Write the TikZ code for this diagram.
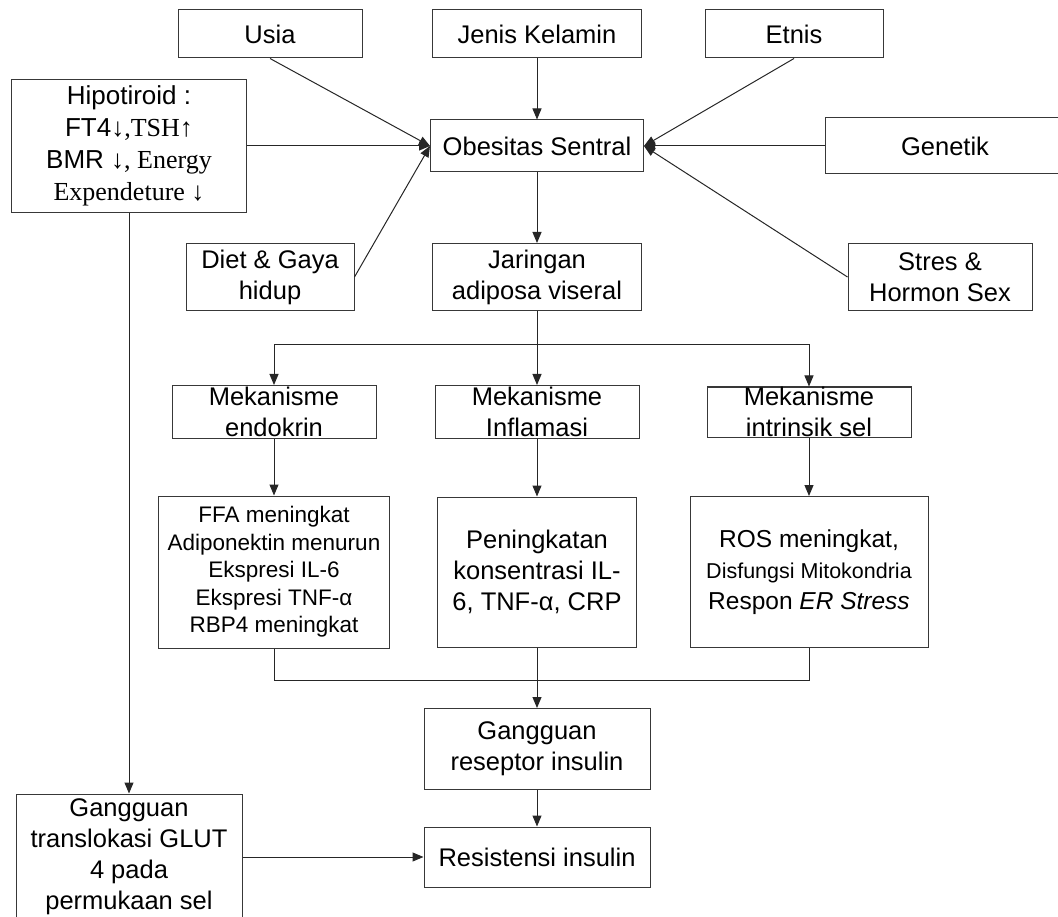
\documentclass[tikz,border=0pt]{standalone}
\usepackage{fontspec}
\setmainfont{Liberation Sans}
\newfontfamily\tnr{Liberation Serif}
\usetikzlibrary{arrows.meta}

\begin{document}
\begin{tikzpicture}[x=1pt,y=-1pt,
    box/.style={draw=black!78,line width=1pt,inner sep=0pt,align=center,
      font=\fontsize{25.5}{31}\selectfont},
    link/.style={draw=black!85,line width=1pt},
    arr/.style={link,-{Triangle[length=11pt,width=9pt]}}]
  \clip (0,0) rectangle (1058,917);
  % faktor risiko
  \node[box,minimum width=184pt,minimum height=48pt] (usia) at (270,34) {Usia};
  \node[box,minimum width=209pt,minimum height=48pt] (jenis) at (537,34) {Jenis Kelamin};
  \node[box,minimum width=178pt,minimum height=48pt] (etnis) at (794,34) {Etnis};
  \node[box,minimum width=235pt,minimum height=133pt,font=\fontsize{26}{32}\selectfont] (hipo) at (129,146)
    {Hipotiroid :\\FT4{\tnr↓,TSH↑}\\BMR {\tnr↓, Energy}\\{\tnr Expendeture ↓}};
  \node[box,minimum width=213pt,minimum height=52pt] (obes) at (537,146) {Obesitas Sentral};
  \node[box,minimum width=240pt,minimum height=56pt] (genetik) at (945,146) {Genetik};
  \node[box,minimum width=168pt,minimum height=67pt] (diet) at (270,277) {Diet \& Gaya\\hidup};
  \node[box,minimum width=209pt,minimum height=67pt] (jaringan) at (537,277) {Jaringan\\adiposa viseral};
  \node[box,minimum width=184pt,minimum height=67pt] (stres) at (940,277) {Stres \&\\Hormon Sex};
  % mekanisme
  \node[box,minimum width=204pt,minimum height=53pt] (mekendo) at (274,412) {Mekanisme\\endokrin};
  \node[box,minimum width=204pt,minimum height=53pt] (mekinfl) at (537,412) {Mekanisme\\Inflamasi};
  \node[box,minimum width=204pt,minimum height=50pt] (mekintr) at (809,412) {Mekanisme\\intrinsik sel};
  \node[box,minimum width=231pt,minimum height=152pt,font=\fontsize{22.5}{27.5}\selectfont] (ffa) at (274,572)
    {FFA meningkat\\Adiponektin menurun\\Ekspresi IL-6\\Ekspresi TNF-α\\RBP4 meningkat};
  \node[box,minimum width=199pt,minimum height=150pt] (pening) at (537,572)
    {Peningkatan\\konsentrasi IL-\\6, TNF-α, CRP};
  \node[box,minimum width=238pt,minimum height=151pt,font=\fontsize{24.5}{31}\selectfont] (ros) at (809,572)
    {ROS meningkat,\\{\fontsize{21.5}{31}\selectfont Disfungsi Mitokondria}\\Respon \textit{ER Stress}};
  % hasil
  \node[box,minimum width=226pt,minimum height=81pt] (ganggrec) at (537,749) {Gangguan\\reseptor insulin};
  \node[box,minimum width=226pt,minimum height=60pt] (resist) at (537,857) {Resistensi insulin};
  \node[box,minimum width=226pt,minimum height=126pt] (glut) at (129,857)
    {Gangguan\\translokasi GLUT\\4 pada\\permukaan sel};
  % panah ke obesitas
  \draw[arr] (usia.south) -- (obes.west);
  \draw[arr] (hipo.east) -- (obes.west);
  \draw[arr] (diet.east) -- (obes.west);
  \draw[arr] (jenis.south) -- (obes.north);
  \draw[arr] (etnis.south) -- (obes.east);
  \draw[arr] (genetik.west) -- (obes.east);
  \draw[arr] (stres.west) -- (obes.east);
  \draw[arr] (obes.south) -- (jaringan.north);
  % percabangan
  \coordinate (split) at ([yshift=-34pt]jaringan.south);
  \draw[link] (jaringan.south) -- (split);
  \draw[arr] (split) -| (mekendo.north);
  \draw[arr] (split) -| (mekintr.north);
  \draw[arr] (split) -- (mekinfl.north);
  \draw[arr] (mekendo.south) -- (ffa.north);
  \draw[arr] (mekinfl.south) -- (pening.north);
  \draw[arr] (mekintr.south) -- (ros.north);
  % penggabungan
  \coordinate (join) at ([yshift=-33pt]pening.south);
  \draw[link] (ffa.south) |- (join) -| (ros.south);
  \draw[arr] (pening.south) -- (ganggrec.north);
  \draw[arr] (ganggrec.south) -- (resist.north);
  \draw[arr] (hipo.south) -- (glut.north);
  \draw[arr] (glut.east) -- (resist.west);
\end{tikzpicture}
\end{document}
